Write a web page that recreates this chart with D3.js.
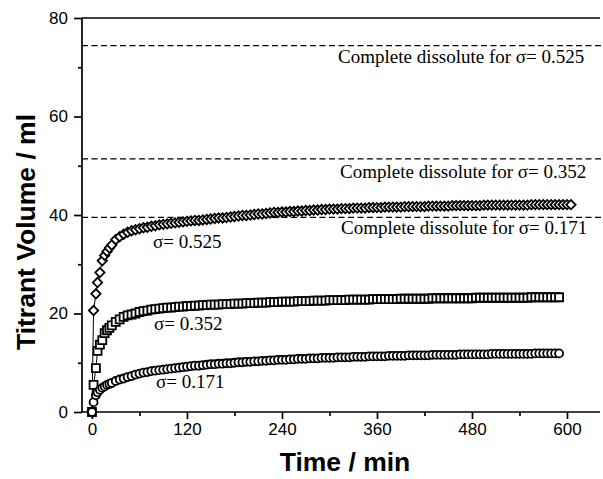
<!DOCTYPE html>
<html>
<head>
<meta charset="utf-8">
<script src="https://cdn.jsdelivr.net/npm/d3@7"></script>
<style>
  body { margin: 0; background: #fff; }
  svg { display: block; }
</style>
</head>
<body>
<svg id="chart" width="603" height="479"></svg>
<script>
// sampling times (min)
var times = [0, 2, 5, 7, 10, 13, 16, 19, 22, 25,
  30, 35, 40, 45, 50, 55, 60, 65, 70, 75,
  80, 85, 90, 95, 100, 105, 110, 115, 120, 125,
  130, 135, 140, 145, 150, 155, 160, 165, 170, 175,
  180, 185, 190, 195, 200, 205, 210, 215, 220, 225,
  230, 235, 240, 245, 250, 255, 260, 265, 270, 275,
  280, 285, 290, 295, 300, 305, 310, 315, 320, 325,
  330, 335, 340, 345, 350, 355, 360, 365, 370, 375,
  380, 385, 390, 395, 400, 405, 410, 415, 420, 425,
  430, 435, 440, 445, 450, 455, 460, 465, 470, 475,
  480, 485, 490, 495, 500, 505, 510, 515, 520, 525,
  530, 535, 540, 545, 550, 555, 560, 565, 570, 575,
  580, 585, 590, 595, 600, 605];

// sigma = 0.525 (diamonds)
var vol525 = [0, 20.6, 24.0, 26.3, 28.3, 30.7, 31.8, 32.6, 33.3, 33.9,
  35.0, 35.6, 36.1, 36.5, 36.8, 37.0, 37.2, 37.4, 37.5, 37.7,
  37.8, 38.0, 38.1, 38.2, 38.3, 38.4, 38.5, 38.6, 38.7, 38.8,
  38.9, 38.9, 39.0, 39.1, 39.2, 39.3, 39.4, 39.4, 39.5, 39.6,
  39.7, 39.8, 39.9, 39.9, 40.0, 40.1, 40.2, 40.2, 40.3, 40.4,
  40.5, 40.5, 40.6, 40.6, 40.7, 40.7, 40.8, 40.8, 40.9, 40.9,
  41.0, 41.0, 41.1, 41.1, 41.2, 41.2, 41.2, 41.3, 41.3, 41.3,
  41.4, 41.4, 41.4, 41.4, 41.5, 41.5, 41.5, 41.5, 41.6, 41.6,
  41.6, 41.6, 41.6, 41.7, 41.7, 41.7, 41.7, 41.7, 41.7, 41.8,
  41.8, 41.8, 41.8, 41.8, 41.8, 41.9, 41.9, 41.9, 41.9, 41.9,
  41.9, 41.9, 41.9, 42.0, 42.0, 42.0, 42.0, 42.0, 42.0, 42.0,
  42.0, 42.0, 42.0, 42.0, 42.0, 42.1, 42.1, 42.1, 42.1, 42.1,
  42.1, 42.1, 42.1, 42.1, 42.1, 42.1];

// sigma = 0.352 (squares)
var vol352 = [0, 5.5, 8.9, 12.4, 13.7, 14.6, 16.0, 16.6, 17.1, 17.6,
  18.3, 18.8, 19.3, 19.6, 19.8, 20.0, 20.3, 20.5, 20.6, 20.8,
  20.9, 21.0, 21.1, 21.2, 21.2, 21.3, 21.4, 21.4, 21.5, 21.5,
  21.6, 21.6, 21.7, 21.7, 21.8, 21.8, 21.8, 21.9, 21.9, 21.9,
  22.0, 22.0, 22.0, 22.1, 22.1, 22.1, 22.2, 22.2, 22.2, 22.3,
  22.3, 22.3, 22.4, 22.4, 22.4, 22.4, 22.5, 22.5, 22.5, 22.5,
  22.6, 22.6, 22.6, 22.6, 22.7, 22.7, 22.7, 22.7, 22.7, 22.8,
  22.8, 22.8, 22.8, 22.8, 22.8, 22.9, 22.9, 22.9, 22.9, 22.9,
  22.9, 22.9, 23.0, 23.0, 23.0, 23.0, 23.0, 23.0, 23.0, 23.0,
  23.1, 23.1, 23.1, 23.1, 23.1, 23.1, 23.1, 23.1, 23.1, 23.1,
  23.1, 23.2, 23.2, 23.2, 23.2, 23.2, 23.2, 23.2, 23.2, 23.2,
  23.2, 23.2, 23.2, 23.2, 23.2, 23.3, 23.3, 23.3, 23.3, 23.3,
  23.3, 23.3, 23.3];

// sigma = 0.171 (circles)
var vol171 = [0, 2.0, 3.4, 4.0, 4.5, 4.9, 5.2, 5.5, 5.7, 5.9,
  6.3, 6.6, 6.8, 7.1, 7.3, 7.6, 7.8, 8.0, 8.1, 8.3,
  8.4, 8.5, 8.6, 8.7, 8.8, 8.9, 9.0, 9.1, 9.2, 9.3,
  9.4, 9.4, 9.5, 9.6, 9.7, 9.7, 9.8, 9.8, 9.9, 9.9,
  10.0, 10.1, 10.1, 10.2, 10.2, 10.3, 10.3, 10.4, 10.4, 10.5,
  10.5, 10.6, 10.6, 10.6, 10.7, 10.7, 10.8, 10.8, 10.8, 10.9,
  10.9, 10.9, 11.0, 11.0, 11.0, 11.0, 11.1, 11.1, 11.1, 11.1,
  11.2, 11.2, 11.2, 11.2, 11.3, 11.3, 11.3, 11.3, 11.3, 11.4,
  11.4, 11.4, 11.4, 11.4, 11.5, 11.5, 11.5, 11.5, 11.5, 11.5,
  11.6, 11.6, 11.6, 11.6, 11.6, 11.6, 11.6, 11.7, 11.7, 11.7,
  11.7, 11.7, 11.7, 11.7, 11.7, 11.8, 11.8, 11.8, 11.8, 11.8,
  11.8, 11.8, 11.8, 11.8, 11.8, 11.8, 11.9, 11.9, 11.9, 11.9,
  11.9, 11.9, 11.9];

var seriesNames = ["σ= 0.525", "σ= 0.352", "σ= 0.171"];
var seriesSymbols = ["diamond", "square", "circle"];

// complete dissolution levels (ml)
var dissolveLevels = [74.4, 51.4, 39.5];
var dissolveLabels = ["Complete dissolute for σ= 0.525",
                      "Complete dissolute for σ= 0.352",
                      "Complete dissolute for σ= 0.171"];

var xMajorTicks = [0, 120, 240, 360, 480, 600];
var xMinorTicks = [60, 180, 300, 420, 540];
var yMajorTicks = [0, 20, 40, 60, 80];
var yMinorTicks = [10, 30, 50, 70];

var svg = d3.select("#chart");
var plotL = 82, plotR = 600, plotT = 18, plotB = 412;

var x = d3.scaleLinear().domain([-12.6, 641.7]).range([plotL, plotR]);
var y = d3.scaleLinear().domain([0, 80]).range([plotB, plotT]);

var tickFont = "Arial, 'Liberation Sans', sans-serif";
var serif = "'Times New Roman', 'Liberation Serif', serif";

// dashed dissolution lines
svg.selectAll(".dissolve")
    .data(dissolveLevels)
    .enter().append("line")
    .attr("class", "dissolve")
    .attr("x1", plotL).attr("x2", 603)
    .attr("y1", function(d) { return y(d); })
    .attr("y2", function(d) { return y(d); })
    .attr("stroke", "#000")
    .attr("stroke-width", 1.3)
    .attr("stroke-dasharray", "6,3.5");

var labelPos = [[338, 63], [340, 178], [341, 234]];
svg.selectAll(".dlabel")
    .data(dissolveLabels)
    .enter().append("text")
    .attr("class", "dlabel")
    .attr("x", function(d, i) { return labelPos[i][0]; })
    .attr("y", function(d, i) { return labelPos[i][1]; })
    .attr("font-family", serif)
    .attr("font-size", 19)
    .text(function(d) { return d; });

// axes
var xAxis = d3.axisBottom(x).tickValues(xMajorTicks).tickSize(7).tickPadding(4)
    .tickFormat(d3.format("d"));
var xAxisMinor = d3.axisBottom(x).tickValues(xMinorTicks).tickSize(4).tickFormat("");
var yAxis = d3.axisLeft(y).tickValues(yMajorTicks).tickSize(8).tickPadding(6)
    .tickFormat(d3.format("d"));
var yAxisMinor = d3.axisLeft(y).tickValues(yMinorTicks).tickSize(4).tickFormat("");

function styleAxis(g) {
    g.select(".domain").remove();
    g.selectAll("line").attr("stroke", "#000").attr("stroke-width", 1.7);
    g.selectAll("text").attr("font-family", tickFont).attr("font-size", 17).attr("fill", "#000");
}

svg.append("g").attr("transform", "translate(0," + plotB + ")").call(xAxis).call(styleAxis);
svg.append("g").attr("transform", "translate(0," + plotB + ")").call(xAxisMinor).call(styleAxis);
svg.append("g").attr("transform", "translate(" + plotL + ",0)").call(yAxis).call(styleAxis);
svg.append("g").attr("transform", "translate(" + plotL + ",0)").call(yAxisMinor).call(styleAxis);

// frame lines (left, bottom, top)
svg.append("line").attr("x1", plotL).attr("x2", plotL).attr("y1", plotT).attr("y2", plotB)
    .attr("stroke", "#000").attr("stroke-width", 1.7);
svg.append("line").attr("x1", plotL).attr("x2", plotR).attr("y1", plotB).attr("y2", plotB)
    .attr("stroke", "#000").attr("stroke-width", 1.7);
svg.append("line").attr("x1", plotL).attr("x2", plotR).attr("y1", plotT).attr("y2", plotT)
    .attr("stroke", "#000").attr("stroke-width", 1.7);

// series
var allSeries = [vol525, vol352, vol171];
// diamond = square turned 45 degrees
var symbolTypes = { diamond: d3.symbolSquare, square: d3.symbolSquare, circle: d3.symbolCircle };
var symbolSizes = { diamond: 44, square: 64, circle: 50 };
var symbolTurn = { diamond: 45, square: 0, circle: 0 };

var line = d3.line()
    .x(function(d) { return x(d[0]); })
    .y(function(d) { return y(d[1]); });

allSeries.forEach(function(vals, si) {
    var pts = vals.map(function(v, i) { return [times[i], v]; });
    var kind = seriesSymbols[si];
    var g = svg.append("g").attr("class", "series");
    g.append("path")
        .datum(pts)
        .attr("d", line)
        .attr("fill", "none")
        .attr("stroke", "#000")
        .attr("stroke-width", 1);
    var sym = d3.symbol().type(symbolTypes[kind]).size(symbolSizes[kind]);
    g.selectAll(".pt")
        .data(pts)
        .enter().append("path")
        .attr("class", "pt")
        .attr("d", sym)
        .attr("transform", function(d) {
            return "translate(" + x(d[0]) + "," + y(d[1]) + ") rotate(" + symbolTurn[kind] + ")";
        })
        .attr("fill", "#fff")
        .attr("stroke", "#000")
        .attr("stroke-width", 1.8);
});

// series labels
var seriesLabelPos = [[153, 248], [154, 330], [156, 388]];
svg.selectAll(".slabel")
    .data(seriesNames)
    .enter().append("text")
    .attr("class", "slabel")
    .attr("x", function(d, i) { return seriesLabelPos[i][0]; })
    .attr("y", function(d, i) { return seriesLabelPos[i][1]; })
    .attr("font-family", serif)
    .attr("font-size", 19)
    .text(function(d) { return d; });

// axis titles
svg.append("text")
    .attr("x", 345).attr("y", 471)
    .attr("text-anchor", "middle")
    .attr("font-family", tickFont)
    .attr("font-weight", "bold")
    .attr("font-size", 26.5)
    .text("Time / min");

svg.append("text")
    .attr("transform", "translate(35,232) rotate(-90)")
    .attr("text-anchor", "middle")
    .attr("font-family", tickFont)
    .attr("font-weight", "bold")
    .attr("font-size", 26.5)
    .text("Titrant Volume / ml");
</script>
</body>
</html>
